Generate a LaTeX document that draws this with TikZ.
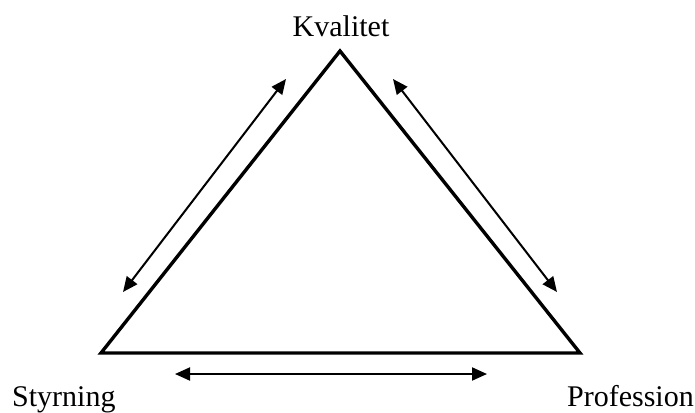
\documentclass[tikz,border=0pt]{standalone}
\usepackage{fontspec}
\setmainfont{Liberation Serif}
\usetikzlibrary{arrows.meta}
\begin{document}
\begin{tikzpicture}[x=1pt,y=-1pt,every node/.style={font=\fontsize{30}{36}\selectfont,inner sep=0pt},
  side/.style={line width=3.4pt,line join=miter},
  dual/.style={line width=2pt,{Triangle[length=15pt,width=13pt]}-{Triangle[length=15pt,width=13pt]}}]
\useasboundingbox (0,0) rectangle (695,412);
% corners of the triangle
\coordinate (top) at (340,51);
\coordinate (left) at (101,353);
\coordinate (right) at (580,353);
\draw[side] (top)--(right)--(left)--cycle;
% labels
\node[anchor=base] (kval) at (341,37) {Kvalitet};
\node[anchor=base west] (styr) at (12,406) {Styrning};
\node[anchor=base east] (prof) at (694,406) {Profession};
% double arrows along the sides
\coordinate (a1) at (123,292); \coordinate (a2) at (286,79);
\coordinate (b1) at (393,79); \coordinate (b2) at (557,292);
\coordinate (c1) at (175,374); \coordinate (c2) at (487,374);
\draw[dual] (a1)--(a2);
\draw[dual] (b1)--(b2);
\draw[dual] (c1)--(c2);
\end{tikzpicture}
\end{document}
